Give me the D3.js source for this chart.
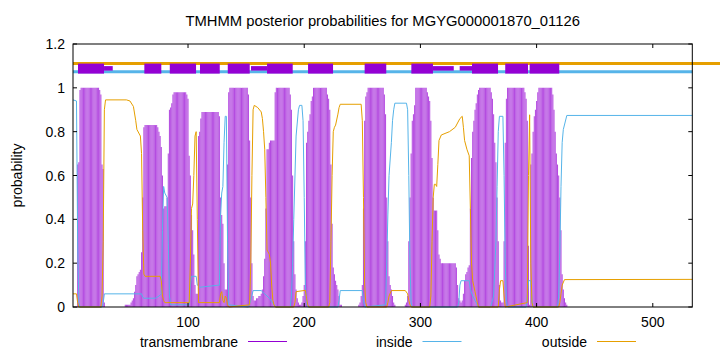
<!DOCTYPE html>
<html><head><meta charset="utf-8">
<script src="https://cdn.jsdelivr.net/npm/d3@7"></script>
<style>body{margin:0;background:#fff} svg text{font-family:"Liberation Sans",Arial,sans-serif;font-size:14px;fill:#000}</style>
</head><body><svg id="c" width="720" height="352"></svg>
<script>
const titleText = "TMHMM posterior probabilities for MGYG000001870_01126";
const xTicks = [100, 200, 300, 400, 500];
const yTicks = [0, 0.2, 0.4, 0.6, 0.8, 1, 1.2];
const seqLength = 534;
const legendLabels = ["transmembrane", "inside", "outside"];

// per-residue transmembrane posterior probability (residues 1..534)
const tmProb = [
0,0,0,0,0.65,0.66,0.99,1,1,1,
1,1,1,1,1,1,1,1,1,1,
1,1,1,0.99,0.97,0.65,0.63,0.02,0,0,
0,0,0,0,0,0,0,0,0,0,
0,0,0,0,0,0.01,0.01,0.01,0.01,0.01,
0.02,0.03,0.04,0.07,0.1,0.14,0.15,0.16,0.17,0.25,
0.5,0.82,0.83,0.83,0.83,0.83,0.83,0.83,0.83,0.83,
0.83,0.83,0.83,0.82,0.8,0.78,0.73,0.6,0.45,0.46,
0.46,0.5,0.7,0.9,0.91,0.93,0.97,0.98,0.98,0.98,
0.98,0.98,0.98,0.98,0.98,0.98,0.98,0.98,0.97,0.95,
0.69,0.6,0.42,0.35,0.24,0.1,0.06,0.06,0.78,0.8,
0.86,0.89,0.89,0.89,0.89,0.89,0.89,0.89,0.89,0.89,
0.89,0.89,0.89,0.89,0.89,0.89,0.87,0.5,0.42,0.38,
0.2,0.08,0.08,0.65,0.98,1,1,1,1,1,
1,1,1,1,1,1,1,1,1,1,
1,0.97,0.76,0.5,0.2,0.05,0.03,0.03,0.04,0.04,
0.05,0.05,0.06,0.08,0.14,0.22,0.45,0.72,0.72,0.75,
0.76,0.76,0.76,0.76,0.98,1,1,1,1,1,
1,1,1,1,1,1,1,0.97,0.9,0.6,
0.3,0.15,0.08,0.04,0.02,0.01,0.01,0.02,0.05,0.1,
0.3,0.75,0.8,0.85,0.88,0.94,0.96,1,1,1,
1,1,1,1,1,1,1,1,1,0.97,
0.95,0.9,0.65,0.38,0.18,0.15,0.12,0.1,0.08,0.05,
0.01,0.01,0,0,0,0,0,0,0,0,
0,0,0,0,0,0,0.01,0.02,0.05,0.1,
0.45,0.85,0.96,0.98,1,1,1,1,1,1,
1,1,1,1,1,1,1,1,0.97,0.88,
0.5,0.3,0.14,0.1,0.08,0.05,0.02,0.01,0,0,
0,0,0,0,0,0,0.01,0.02,0.05,0.3,
0.5,0.7,0.85,0.88,0.92,1,1,1,1,1,
1,1,1,1,1,0.98,0.96,0.94,0.85,0.68,
0.5,0.44,0.44,0.44,0.35,0.24,0.22,0.2,0.2,0.2,
0.2,0.2,0.2,0.2,0.2,0.2,0.2,0.2,0.2,0.2,
0.18,0.1,0.04,0.03,0.02,0.03,0.06,0.12,0.15,0.16,
0.18,0.19,0.45,0.68,0.8,0.85,0.9,0.93,0.97,0.99,
1,1,1,1,1,1,1,1,1,1,
0.98,0.95,0.88,0.75,0.66,0.5,0.3,0.1,0.03,0.02,
0.02,0.3,0.75,0.95,1,1,1,1,1,1,
1,1,1,1,1,1,1,1,1,0.98,
0.95,0.85,0.28,0.01,0.65,0.7,0.8,0.87,0.9,0.94,
0.98,1,1,1,1,1,1,1,1,1,
1,1,1,0.97,0.9,0.8,0.7,0.65,0.6,0.5,
0.35,0.15,0.08,0.04,0.02,0.01,0,0,0,0,
0,0,0,0,0,0,0,0,0,0,
0,0,0,0,0,0,0,0,0,0,
0,0,0,0,0,0,0,0,0,0,
0,0,0,0,0,0,0,0,0,0,
0,0,0,0,0,0,0,0,0,0,
0,0,0,0,0,0,0,0,0,0,
0,0,0,0,0,0,0,0,0,0,
0,0,0,0,0,0,0,0,0,0,
0,0,0,0,0,0,0,0,0,0,
0,0,0,0,0,0,0,0,0,0,
0,0,0,0
];

// inside probability, [residue, value]
const insideProb = [
[1,0.945],[4,0.94],[5,0.3],[6,0.02],[7,0],[26,0],[27,0.02],[28,0.06],[60,0.06],[61,0.045],[62,0.04],[72,0.04],[75,0.05],[77,0.06],
[78,0.35],[79,0.55],[80,0.52],[82,0.5],[83,0.3],[84,0.05],[85,0.01],[101,0.01],[102,0.1],[103,0.14],[107,0.14],[108,0.1],[110,0.09],
[127,0.1],[128,0.42],[129,0.52],[130,0.55],[131,0.75],[132,0.87],[133,0.87],[134,0.3],[135,0.01],[152,0],[154,0.03],[156,0.075],
[163,0.075],[166,0.06],[170,0.04],[174,0.01],[176,0],[188,0],[189,0.05],[190,0.19],[191,0.4],[193,0.78],[195,0.9],[196,0.92],
[198,0.92],[199,0.85],[200,0.5],[201,0.1],[202,0.02],[203,0],[229,0],[230,0.03],[231,0.075],[250,0.075],[251,0.03],[252,0],
[270,0.01],[271,0.2],[272,0.42],[273,0.6],[275,0.75],[276,0.85],[277,0.9],[278,0.93],[288,0.93],[289,0.9],[290,0.6],[291,0.2],
[292,0.02],[293,0],[332,0],[333,0.02],[334,0.1],[335,0.12],[342,0.12],[343,0.08],[345,0.05],[347,0.03],[350,0],[360,0],[361,0.01],
[363,0.05],[365,0.3],[366,0.55],[367,0.8],[368,0.87],[371,0.87],[372,0.6],[373,0.2],[374,0.03],[375,0],[391,0],[392,0.05],
[393,0.12],[395,0.12],[396,0.03],[397,0],[418,0],[419,0.05],[420,0.25],[421,0.55],[422,0.75],[423,0.81],[426,0.874],[534,0.874]
];

// outside probability, [residue, value]
const outsideProb = [
[1,0.06],[4,0.06],[5,0.02],[6,0],[25,0],[26,0.05],[27,0.3],[28,0.9],[29,0.945],[47,0.945],[50,0.94],[53,0.915],[55,0.85],[56,0.81],
[59,0.78],[60,0.7],[61,0.35],[62,0.15],[63,0.14],[76,0.14],[77,0.12],[78,0.05],[79,0.03],[80,0.02],[101,0.02],[102,0.2],[103,0.45],
[104,0.47],[105,0.6],[106,0.78],[107,0.8],[108,0.4],[109,0.02],[127,0.02],[128,0.06],[129,0.07],[130,0.03],[131,0.02],[132,0.05],
[133,0.04],[134,0.01],[135,0],[153,0.01],[154,0.2],[155,0.6],[156,0.9],[157,0.92],[160,0.91],[163,0.89],[164,0.86],[165,0.8],
[166,0.72],[167,0.5],[168,0.26],[170,0.24],[171,0.2],[172,0.1],[173,0.03],[174,0.01],[175,0],[191,0],[192,0.02],[193,0.07],
[201,0.076],[202,0.04],[203,0.01],[204,0],[221,0],[222,0.02],[223,0.3],[224,0.6],[225,0.8],[226,0.82],[227,0.83],[229,0.88],
[230,0.91],[231,0.925],[249,0.925],[250,0.85],[251,0.5],[252,0.1],[253,0.02],[254,0],[271,0],[272,0.02],[273,0.05],[275,0.075],
[287,0.075],[289,0.06],[290,0.03],[291,0.01],[292,0],[308,0],[309,0.05],[310,0.3],[311,0.5],[312,0.56],[313,0.56],[314,0.55],
[315,0.65],[316,0.76],[318,0.785],[325,0.8],[330,0.82],[334,0.86],[336,0.87],[337,0.82],[338,0.76],[340,0.72],[342,0.69],
[343,0.45],[344,0.2],[345,0.12],[347,0.07],[349,0.02],[350,0],[367,0],[368,0.08],[369,0.12],[371,0.12],[372,0.05],[373,0],
[392,0.02],[393,0.6],[394,0.877],[395,0.2],[396,0.02],[397,0],[419,0],[420,0.02],[421,0.06],[422,0.1],[424,0.125],[534,0.126]
];

// predicted topology strip above the curves (residue ranges)
const topTmSegments = [[5.3,27.7],[62.4,77],[84.3,106.9],[110.3,127.3],[134.2,153.1],[168,190.1],[203.3,224.8],[252,270.6],[292.2,310.8],[344.4,366.8],[373,392.6],[394,419.5]];
const topThinSegments = [[27.7,35.2],[154.2,168],[310.8,328.7],[333.8,344.4]];
const topOutsideRange = [1, 558];
const topInsideRange = [1, 534];
const topLevels = {outside: 1.111, inside: 1.073, tm: 1.09};

const C = {tm: "#9400d3", inside: "#56b4e9", outside: "#e69f00"};
const svg = d3.select("#c");
const x = d3.scaleLinear().domain([1, seqLength]).range([73, 692.3]);
const y = d3.scaleLinear().domain([0, 1.2]).range([307, 44]);

// impulses
svg.append("g").selectAll("line").data(tmProb).join("line")
  .attr("x1", (d, i) => x(i + 1)).attr("x2", (d, i) => x(i + 1))
  .attr("y1", y(0)).attr("y2", d => y(d))
  .attr("stroke", C.tm).attr("stroke-opacity", 0.7).attr("stroke-width", 1.05);

const line = d3.line().x(d => x(d[0])).y(d => y(d[1]));
svg.append("path").attr("d", line(insideProb)).attr("fill", "none").attr("stroke", C.inside).attr("stroke-width", 1);
svg.append("path").attr("d", line(outsideProb)).attr("fill", "none").attr("stroke", C.outside).attr("stroke-width", 1);

// topology strip
svg.append("line").attr("x1", x(topOutsideRange[0])).attr("x2", x(topOutsideRange[1]))
  .attr("y1", y(topLevels.outside)).attr("y2", y(topLevels.outside)).attr("stroke", C.outside).attr("stroke-width", 3);
svg.append("line").attr("x1", x(topInsideRange[0])).attr("x2", x(topInsideRange[1]))
  .attr("y1", y(topLevels.inside)).attr("y2", y(topLevels.inside)).attr("stroke", C.inside).attr("stroke-width", 3);
svg.append("g").selectAll("rect").data(topTmSegments).join("rect")
  .attr("x", d => x(d[0])).attr("width", d => x(d[1]) - x(d[0]))
  .attr("y", y(topLevels.tm) - 4.5).attr("height", 10).attr("fill", C.tm);
svg.append("g").selectAll("rect").data(topThinSegments).join("rect")
  .attr("x", d => x(d[0])).attr("width", d => x(d[1]) - x(d[0]))
  .attr("y", y(topLevels.tm) - 2).attr("height", 4.5).attr("fill", C.tm);

// frame and ticks
const [X0, X1] = x.range(), [Y0, Y1] = y.range();
svg.append("rect").attr("x", X0).attr("y", Y1).attr("width", X1 - X0).attr("height", Y0 - Y1)
  .attr("fill", "none").attr("stroke", "#000").attr("stroke-width", 1);
const tk = svg.append("g").attr("stroke", "#000").attr("stroke-width", 1);
yTicks.forEach(v => {
  tk.append("line").attr("x1", X0).attr("x2", X0 + 4).attr("y1", y(v)).attr("y2", y(v));
  tk.append("line").attr("x1", X1).attr("x2", X1 - 4).attr("y1", y(v)).attr("y2", y(v));
});
xTicks.forEach(v => {
  tk.append("line").attr("x1", x(v)).attr("x2", x(v)).attr("y1", Y0).attr("y2", Y0 - 4);
  tk.append("line").attr("x1", x(v)).attr("x2", x(v)).attr("y1", Y1).attr("y2", Y1 + 4);
});
svg.append("g").selectAll("text").data(yTicks).join("text")
  .attr("x", X0 - 8).attr("y", d => y(d) + 5).attr("text-anchor", "end").text(d => String(d));
svg.append("g").selectAll("text").data(xTicks).join("text")
  .attr("x", d => x(d)).attr("y", Y0 + 19.5).attr("text-anchor", "middle").text(d => String(d));

svg.append("text").attr("x", (X0 + X1) / 2).attr("y", 26).attr("text-anchor", "middle")
  .style("font-size", "14.8px").text(titleText);
svg.append("text").attr("transform", `translate(22,${(Y0 + Y1) / 2}) rotate(-90)`).attr("text-anchor", "middle").text("probability");

// legend
const legColors = [C.tm, C.inside, C.outside];
legendLabels.forEach((lab, i) => {
  const te = 238 + i * 174.5;
  svg.append("text").attr("x", te).attr("y", 346.5).attr("text-anchor", "end").text(lab);
  svg.append("line").attr("x1", te + 10).attr("x2", te + 49).attr("y1", 341.5).attr("y2", 341.5)
    .attr("stroke", legColors[i]).attr("stroke-width", 1);
});
</script></body></html>
